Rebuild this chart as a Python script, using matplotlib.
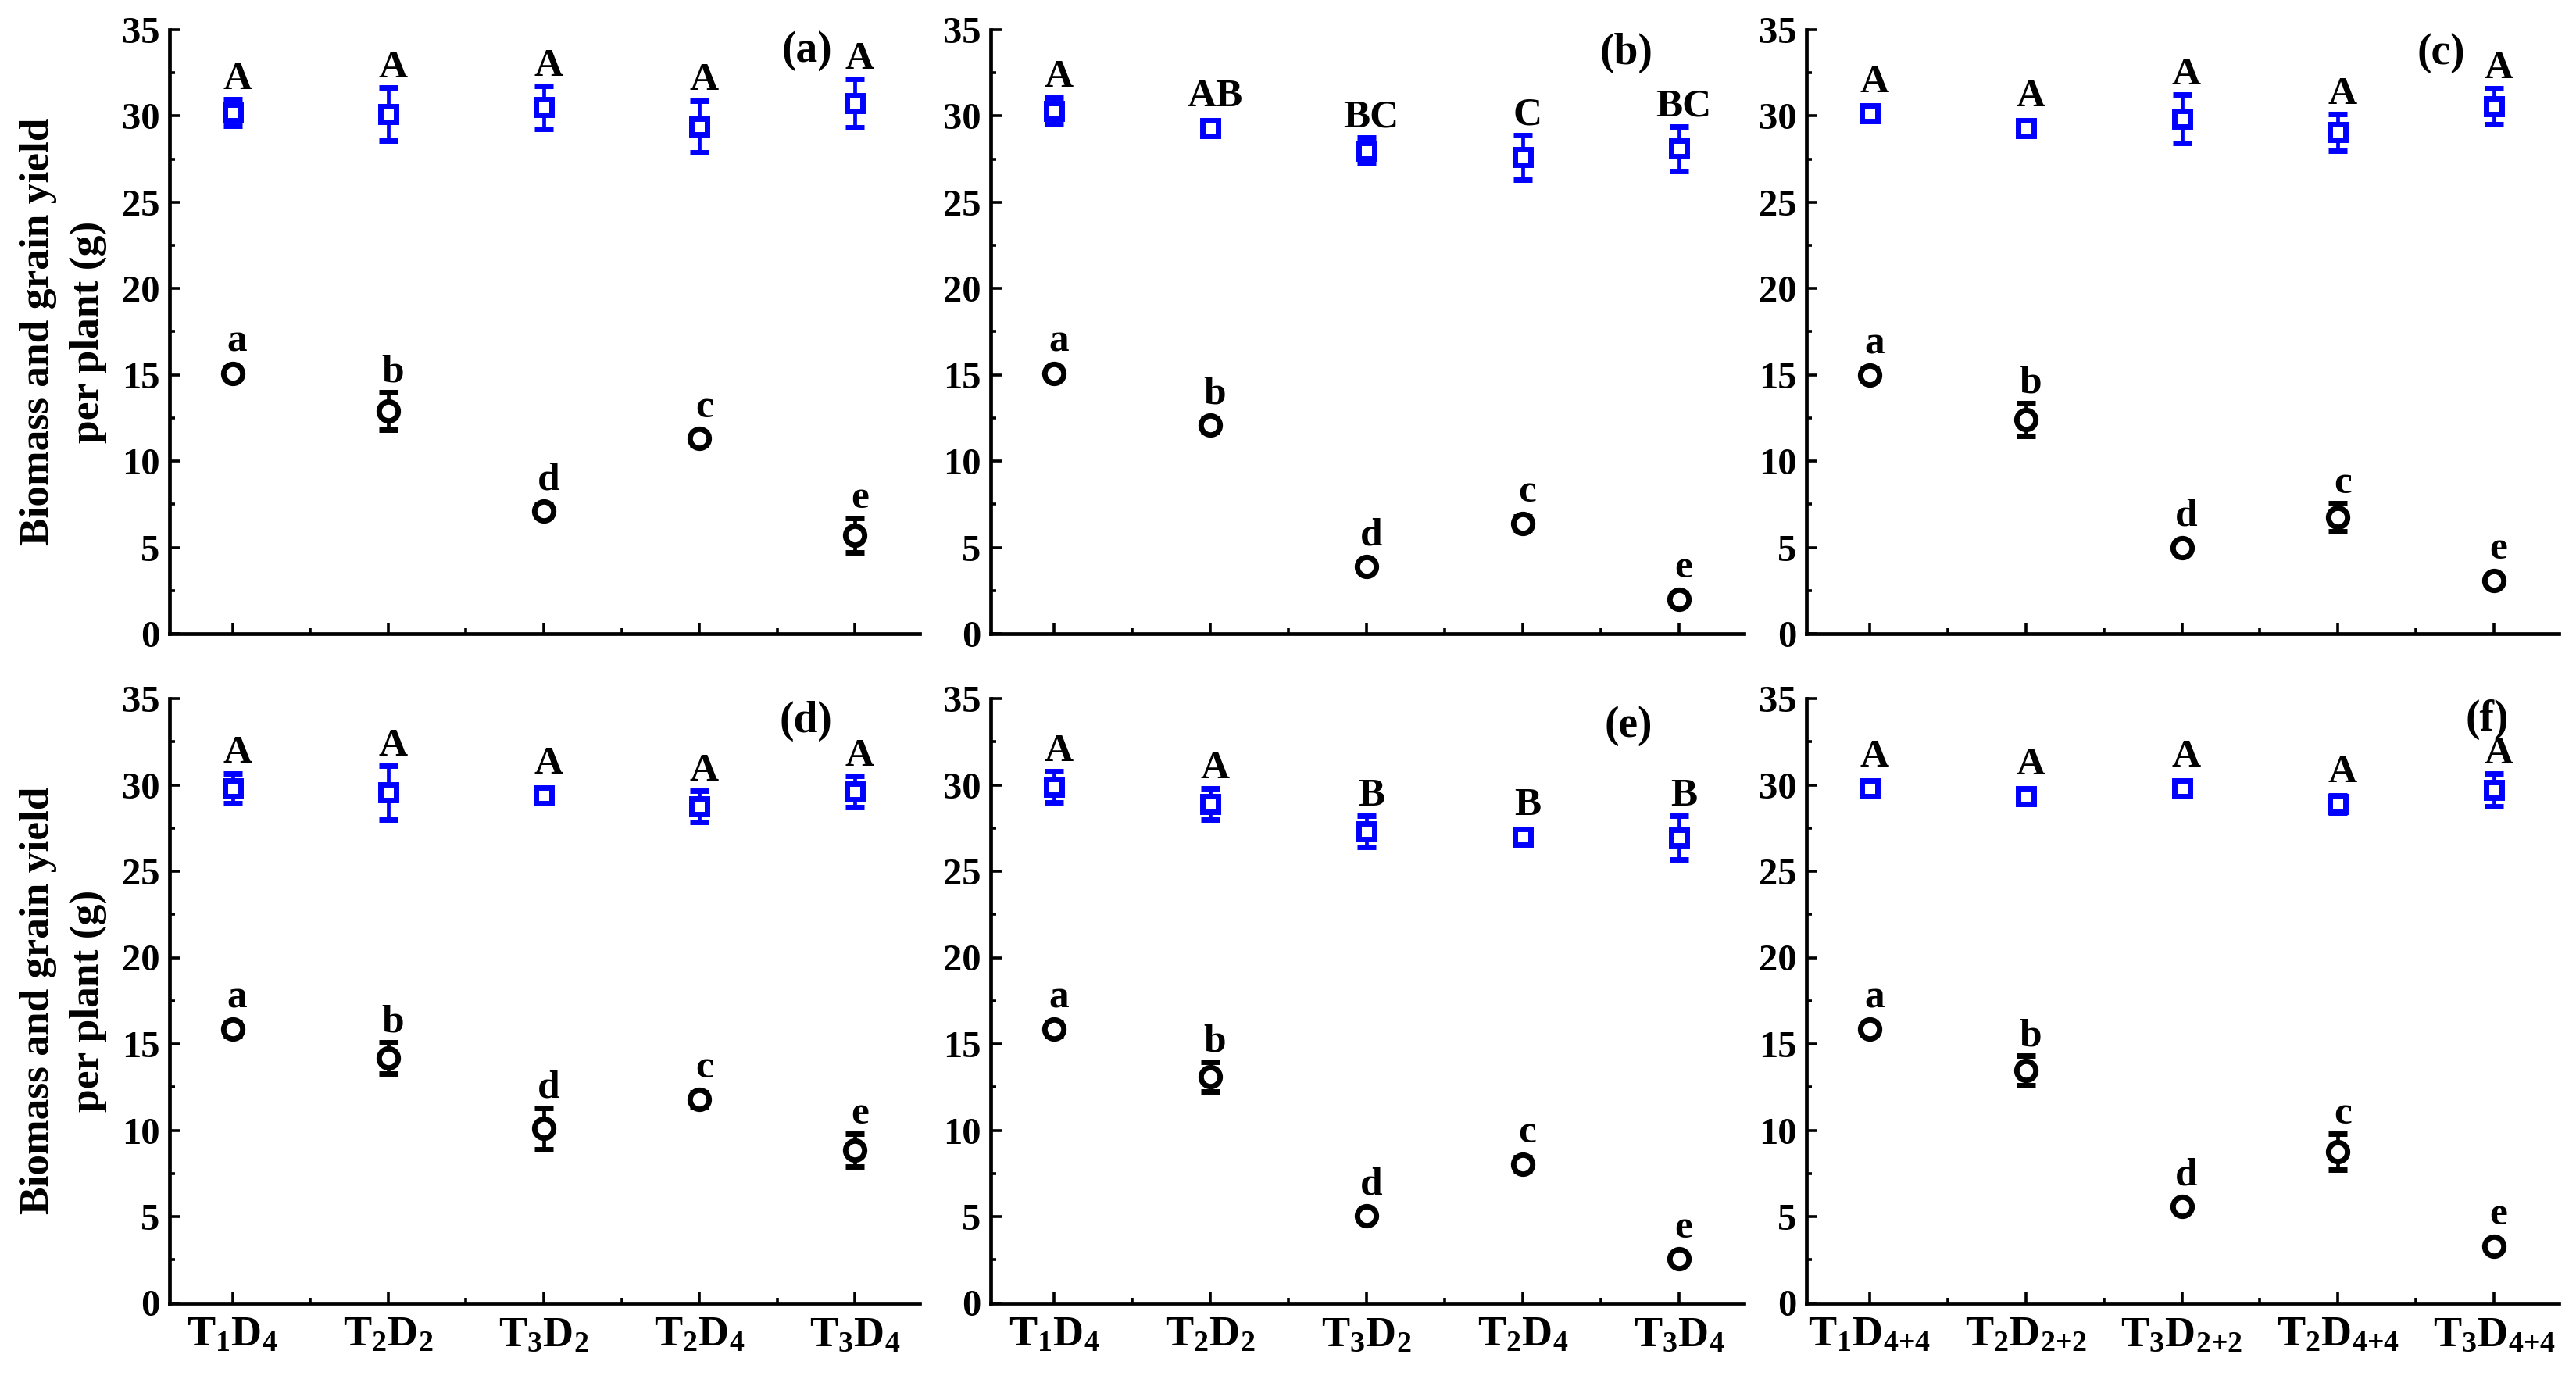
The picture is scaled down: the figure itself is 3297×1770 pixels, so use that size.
import matplotlib
matplotlib.use('Agg')
import matplotlib.pyplot as plt
import matplotlib.transforms as mtransforms
from matplotlib.ticker import MultipleLocator, FixedLocator

plt.rcParams['font.family'] = ['Liberation Serif', 'DejaVu Serif']
plt.rcParams['font.weight'] = 'bold'
plt.rcParams['mathtext.fontset'] = 'custom'
plt.rcParams['mathtext.rm'] = 'Liberation Serif:bold'
plt.rcParams['mathtext.bf'] = 'Liberation Serif:bold'
plt.rcParams['mathtext.it'] = 'Liberation Serif:italic:bold'

# ---------------- data ----------------
cats_single = [r'$\mathbf{T_1D_4}$', r'$\mathbf{T_2D_2}$', r'$\mathbf{T_3D_2}$',
               r'$\mathbf{T_2D_4}$', r'$\mathbf{T_3D_4}$']
cats_double = [r'$\mathbf{T_1D_{4{+}4}}$', r'$\mathbf{T_2D_{2{+}2}}$', r'$\mathbf{T_3D_{2{+}2}}$',
               r'$\mathbf{T_2D_{4{+}4}}$', r'$\mathbf{T_3D_{4{+}4}}$']

panel_names = ['(a)', '(b)', '(c)', '(d)', '(e)', '(f)']

biomass_a = [30.2, 30.1, 30.5, 29.4, 30.75]
biomass_a_err = [0.78, 1.55, 1.25, 1.5, 1.4]
grain_a = [15.1, 12.9, 7.1, 11.3, 5.7]
grain_a_err = [0.35, 1.1, 0.35, 0.4, 1.0]

biomass_b = [30.3, 29.3, 28.0, 27.6, 28.1]
biomass_b_err = [0.78, 0.4, 0.75, 1.3, 1.3]
grain_b = [15.1, 12.1, 3.9, 6.4, 2.0]
grain_b_err = [0.35, 0.4, 0.3, 0.4, 0.3]

biomass_c = [30.15, 29.3, 29.85, 29.05, 30.55]
biomass_c_err = [0.3, 0.3, 1.4, 1.05, 1.05]
grain_c = [15.0, 12.4, 5.0, 6.75, 3.1]
grain_c_err = [0.35, 0.95, 0.3, 0.8, 0.3]

biomass_d = [29.8, 29.55, 29.4, 28.75, 29.6]
biomass_d_err = [0.87, 1.55, 0.4, 0.9, 0.9]
grain_d = [15.85, 14.2, 10.1, 11.8, 8.85]
grain_d_err = [0.4, 0.9, 1.2, 0.4, 0.95]

biomass_e = [29.9, 28.9, 27.3, 27.0, 26.95]
biomass_e_err = [0.9, 0.9, 0.9, 0.3, 1.25]
grain_e = [15.85, 13.1, 5.05, 8.05, 2.55]
grain_e_err = [0.4, 0.85, 0.3, 0.4, 0.3]

biomass_f = [29.8, 29.35, 29.8, 28.9, 29.7]
biomass_f_err = [0.3, 0.3, 0.3, 0.5, 0.95]
grain_f = [15.85, 13.45, 5.6, 8.75, 3.3]
grain_f_err = [0.3, 0.85, 0.3, 1.05, 0.3]

upper_letters_a = ['A', 'A', 'A', 'A', 'A']
upper_letters_b = ['A', 'AB', 'BC', 'C', 'BC']
upper_letters_c = ['A', 'A', 'A', 'A', 'A']
upper_letters_d = ['A', 'A', 'A', 'A', 'A']
upper_letters_e = ['A', 'A', 'B', 'B', 'B']
upper_letters_f = ['A', 'A', 'A', 'A', 'A']
lower_letters = ['a', 'b', 'd', 'c', 'e']

panels = [
    (biomass_a, biomass_a_err, grain_a, grain_a_err, upper_letters_a, lower_letters, cats_single),
    (biomass_b, biomass_b_err, grain_b, grain_b_err, upper_letters_b, lower_letters, cats_single),
    (biomass_c, biomass_c_err, grain_c, grain_c_err, upper_letters_c, lower_letters, cats_double),
    (biomass_d, biomass_d_err, grain_d, grain_d_err, upper_letters_d, lower_letters, cats_single),
    (biomass_e, biomass_e_err, grain_e, grain_e_err, upper_letters_e, lower_letters, cats_single),
    (biomass_f, biomass_f_err, grain_f, grain_f_err, upper_letters_f, lower_letters, cats_double),
]

# ---------------- layout ----------------
W, H = 3298, 1770
fig = plt.figure(figsize=(W / 100, H / 100), dpi=100)

lefts_px = [217, 1268, 2312]
widths_px = [960, 964, 963]
rows_px = [(38, 811), (894, 1667.5)]
panel_label_pos = [(0.85, 33.8), (0.844, 33.65), (0.8436, 33.65),
                   (0.848, 33.67), (0.8465, 33.4), (0.905, 33.8)]

HALF = 0.65
OFF = 0.6
FS_TICK = 35
FS_LET = 37

for i, (bm, bme, gr, gre, ul, ll, cats) in enumerate(panels):
    r, c = divmod(i, 3)
    top, bot = rows_px[r]
    ax = fig.add_axes([lefts_px[c] / W, 1 - bot / H, widths_px[c] / W, (bot - top) / H])
    x = list(range(1, len(bm) + 1))
    ax.errorbar(x, bm, yerr=bme, fmt='s', ms=15, mfc='white', mec='#0000ff', mew=5.0,
                ecolor='#0000ff', elinewidth=3.4, capsize=8.8, capthick=3.2, zorder=3)
    ax.errorbar(x, gr, yerr=gre, fmt='o', ms=17.5, mfc='white', mec='black', mew=5.0,
                ecolor='black', elinewidth=3.4, capsize=8.8, capthick=3.2, zorder=3)
    for xi, m, e, t in zip(x, bm, bme, ul):
        ax.text(xi + 0.03, m + max(e, HALF) + OFF, t, ha='center', va='baseline',
                fontsize=FS_LET, fontweight='bold')
    for xi, m, e, t in zip(x, gr, gre, ll):
        ax.text(xi + 0.03, m + max(e, HALF) + OFF, t, ha='center', va='baseline',
                fontsize=FS_LET, fontweight='bold')
    px, py = panel_label_pos[i]
    trans = mtransforms.blended_transform_factory(ax.transAxes, ax.transData)
    ax.text(px, py, panel_names[i], transform=trans,
            ha='center', va='center', fontsize=40, fontweight='bold')

    ax.set_xlim(0.595, 5.415)
    ax.set_ylim(0, 35)
    ax.xaxis.set_major_locator(FixedLocator(x))
    ax.xaxis.set_minor_locator(FixedLocator([1.5, 2.5, 3.5, 4.5]))
    ax.yaxis.set_major_locator(MultipleLocator(5))
    ax.yaxis.set_minor_locator(MultipleLocator(2.5))
    if r == 1:
        ax.set_xticklabels(cats)
    else:
        ax.set_xticklabels([])
    for s in ['top', 'right']:
        ax.spines[s].set_visible(False)
    for s in ['left', 'bottom']:
        ax.spines[s].set_linewidth(3.4)
    ax.tick_params(axis='both', which='major', direction='in', length=10, width=2.6)
    ax.tick_params(axis='both', which='minor', direction='in', length=5, width=2.6)
    ax.tick_params(axis='y', which='major', labelsize=FS_TICK, pad=9)
    ax.tick_params(axis='x', which='major', labelsize=39, pad=12)
    for lab in ax.get_yticklabels():
        lab.set_fontweight('bold')

for r, (top, bot) in enumerate(rows_px):
    yc = 1 - (top + bot) / 2 / H
    fig.text(81 / W, yc, 'Biomass and grain yield\nper plant (g)', rotation=90,
             ha='center', va='center', multialignment='center', fontsize=38.5,
             fontweight='bold', linespacing=1.4)

fig.savefig('out.png', dpi=100)
